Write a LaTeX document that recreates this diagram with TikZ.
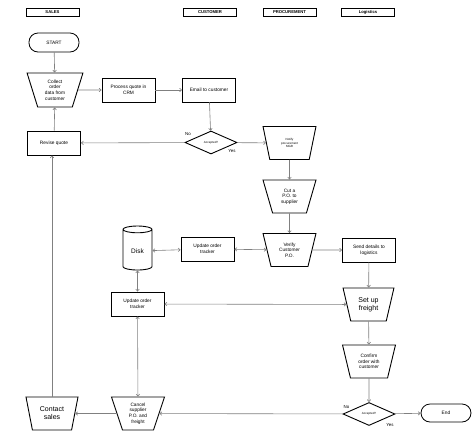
\documentclass[tikz,border=0pt]{standalone}
\usepackage{fontspec}
\setmainfont{Liberation Sans}
\usetikzlibrary{arrows.meta, shapes.geometric}

\begin{document}
\begin{tikzpicture}[
    x=1pt, y=-1pt,
    font=\fontsize{4.8}{5.6}\selectfont,
    lane/.style={
        rectangle, draw=black, line width=0.5pt,
        minimum width=53pt, minimum height=8pt, inner sep=0pt,
        font=\fontsize{4.2}{4.2}\selectfont\bfseries
    },
    box/.style={
        rectangle, draw=black, line width=0.9pt,
        minimum width=53pt, minimum height=24pt,
        align=center, inner sep=1pt
    },
    term/.style={
        rectangle, draw=black, line width=0.8pt, rounded corners=9pt,
        minimum width=50pt, minimum height=19pt, align=center
    },
    trap/.style={
        trapezium, shape border rotate=180, trapezium angle=73,
        trapezium stretches=true, draw=black, line width=0.9pt,
        minimum width=53pt, minimum height=33pt,
        align=center, inner sep=0pt
    },
    decide/.style={
        diamond, draw=black, line width=0.9pt,
        minimum width=52pt, minimum height=23pt, inner sep=0pt,
        font=\fontsize{3}{3}\selectfont
    },
    disk/.style={
        cylinder, draw=black, line width=0.9pt, shape border rotate=90,
        aspect=0.35, minimum width=29pt, minimum height=44pt,
        font=\fontsize{6.5}{7}\selectfont
    },
    arrow/.style={draw=gray, line width=0.6pt, -{Straight Barb[length=2pt, width=3.5pt]}},
    both/.style={draw=gray, line width=0.6pt, {Straight Barb[length=2pt, width=3.5pt]}-{Straight Barb[length=2pt, width=3.5pt]}},
    lbl/.style={font=\fontsize{4.4}{5}\selectfont, inner sep=0pt}
]
    \fill[white] (0,0) rectangle (474,437);
    \useasboundingbox (0,0) rectangle (474,437);

    % lanes
    \node[lane] (sales) at (52.5,12.5) {SALES};
    \node[lane] (customer) at (210,12.5) {CUSTOMER};
    \node[lane] (procurement) at (289.5,12.5) {PROCUREMENT};
    \node[lane] (logistics) at (368,12.5) {Logistics};

    % sales / customer
    \node[term] (start) at (54,42.5) {START};
    \node[trap, minimum width=56pt, minimum height=34pt] (collect) at (55,90) {Collect\\order\\data from\\customer};
    \node[box] (crm) at (128.5,90) {Process quote in\\CRM};
    \node[box] (email) at (209,90) {Email to customer};
    \node[decide] (accept1) at (211,142.5) {Accepted?};
    \node[box] (revise) at (54,143) {Revise quote};

    % procurement
    \node[trap, font=\fontsize{3}{3.6}\selectfont] (notify) at (289.5,143) {Notify\\procurement\\MGR};
    \node[trap] (cutpo) at (289.5,196.5) {Cut a\\P.O. to\\supplier};
    \node[trap] (verify) at (289.5,250) {Verify\\Customer\\P.O.};
    \node[box] (tracker1) at (207.5,249) {Update order\\tracker};
    \node[disk] (disk) at (137.5,251) {Disk};
    \node[box] (tracker2) at (137.5,304) {Update order\\tracker};

    % logistics
    \node[box] (send) at (369,250) {Send details to\\logistics};
    \node[trap, minimum width=51pt, font=\fontsize{7}{8}\selectfont] (freight) at (368.5,304.5) {Set up\\freight};
    \node[trap] (confirm) at (369,361.5) {Confirm\\order with\\customer};
    \node[decide] (accept2) at (369,414) {Accepted?};
    \node[term, minimum height=18pt] (end) at (446,413) {End};
    \node[trap] (cancel) at (138,413.5) {Cancel\\supplier\\P.O. and\\freight};
    \node[trap, minimum width=52pt, font=\fontsize{7}{8}\selectfont] (contact) at (52,413.5) {Contact\\sales};

    % flow
    \draw[arrow] (start) -- (collect);
    \draw[arrow] (collect) -- (crm);
    \draw[arrow] (crm) -- (email);
    \draw[arrow] (email) -- (accept1);
    \draw[arrow] (accept1) -- (revise);
    \draw[arrow] (accept1) -- (notify);
    \draw[arrow] (revise) -- (collect);
    \draw[arrow] (notify) -- (cutpo);
    \draw[arrow] (cutpo) -- (verify);
    \draw[both] (verify) -- (tracker1);
    \draw[both] (tracker1) -- (disk);
    \draw[both] (disk) -- (tracker2);
    \draw[arrow] (verify) -- (send);
    \draw[arrow] (send) -- (freight);
    \draw[both] (tracker2) -- (freight);
    \draw[both] (tracker2) -- (cancel);
    \draw[arrow] (freight) -- (confirm);
    \draw[arrow] (confirm) -- (accept2);
    \draw[arrow] (accept2) -- (end);
    \draw[arrow] (accept2) -- (cancel);
    \draw[arrow] (cancel) -- (contact);
    \draw[arrow] (contact.north) -- (contact.north |- revise.south);

    % answers
    \node[lbl] (no1) at (188,134) {No};
    \node[lbl] (yes1) at (232,151) {Yes};
    \node[lbl] (no2) at (346.5,407.5) {No};
    \node[lbl] (yes2) at (390,425) {Yes};
\end{tikzpicture}
\end{document}
